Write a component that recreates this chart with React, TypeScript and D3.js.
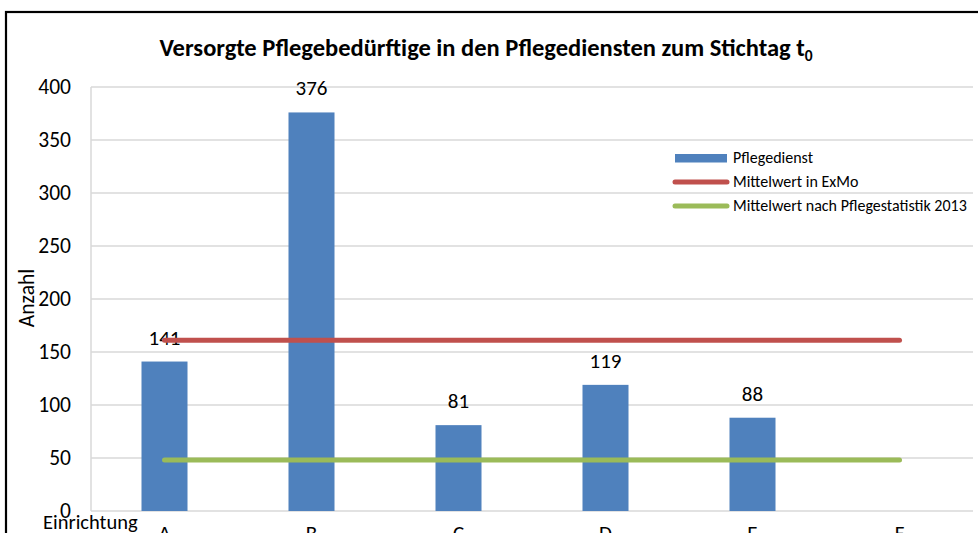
import React from "react";
import * as d3 from "d3";

const categories = ["A", "B", "C", "D", "E", "F"];
const pflegedienst: (number | null)[] = [141, 376, 81, 119, 88, null];
const mittelwertExMo = [161, 161, 161, 161, 161, 161];
const mittelwertStatistik = [48, 48, 48, 48, 48, 48];
const yTicks = [0, 50, 100, 150, 200, 250, 300, 350, 400];
const legendLabels = ["Pflegedienst", "Mittelwert in ExMo", "Mittelwert nach Pflegestatistik 2013"];

const W = 978;
const H = 533;
const FONT = "Carlito, Calibri, 'Open Sans', Lato, sans-serif";

export default function App() {
  const left = 91, right = 973, top = 87, bottom = 511;
  const x = d3.scaleBand<string>().domain(categories).range([left, right]).paddingInner(0.687).paddingOuter(0.3435);
  const xc = (c: string) => (x(c) as number) + x.bandwidth() / 2;
  const y = d3.scaleLinear().domain([0, 400]).range([bottom, top]);

  const line = d3.line<number>().x((_, i) => xc(categories[i])).y((d) => y(d));

  const blue = "#4F81BD", red = "#C0504D", green = "#9BBB59";

  return (
    <svg width={W} height={H} style={{ position: "absolute", left: 0, top: 0, background: "#fff" }} fontFamily={FONT}>
      <rect x={6} y={12} width={1000} height={600} fill="#fff" stroke="#000" strokeWidth={2.2} />
      <text x={486} y={56} textAnchor="middle" fontWeight="bold" fontSize={24.5}>
        Versorgte Pflegebedürftige in den Pflegediensten zum Stichtag t<tspan fontSize={15.5} dy={5}>0</tspan>
      </text>
      {yTicks.map((t) => (
        <g key={t}>
          <line x1={left} x2={right} y1={y(t)} y2={y(t)} stroke="#D9D9D9" strokeWidth={1.5} />
          <text x={71} y={y(t) + 7} textAnchor="end" fontSize={21.5}>{t}</text>
        </g>
      ))}
      <line x1={left} x2={left} y1={top} y2={bottom} stroke="#D9D9D9" strokeWidth={1.5} />
      <text transform={`translate(34,298) rotate(-90)`} textAnchor="middle" fontSize={21.5}>Anzahl</text>
      {categories.map((c, i) => (
        <g key={c}>
          {pflegedienst[i] != null && (
            <>
              <rect x={x(c)} y={y(pflegedienst[i] as number)} width={x.bandwidth()} height={bottom - y(pflegedienst[i] as number)} fill={blue} />
              <text x={xc(c)} y={y(pflegedienst[i] as number) - 17} textAnchor="middle" fontSize={21}>{pflegedienst[i]}</text>
            </>
          )}
          <text x={xc(c)} y={540} textAnchor="middle" fontSize={21}>{c}</text>
        </g>
      ))}
      <text x={43} y={529} fontSize={20.5}>Einrichtung</text>
      <path d={line(mittelwertExMo) as string} stroke={red} strokeWidth={5} fill="none" strokeLinecap="round" />
      <path d={line(mittelwertStatistik) as string} stroke={green} strokeWidth={5} fill="none" strokeLinecap="round" />
      {legendLabels.map((l, i) => {
        const ly = 158 + i * 24;
        return (
          <g key={l}>
            {i === 0 ? (
              <rect x={675} y={ly - 4} width={52} height={8.5} fill={blue} />
            ) : (
              <line x1={675} x2={727} y1={ly} y2={ly} stroke={i === 1 ? red : green} strokeWidth={5} strokeLinecap="round" />
            )}
            <text x={733} y={ly + 5} fontSize={16}>{l}</text>
          </g>
        );
      })}
    </svg>
  );
}
